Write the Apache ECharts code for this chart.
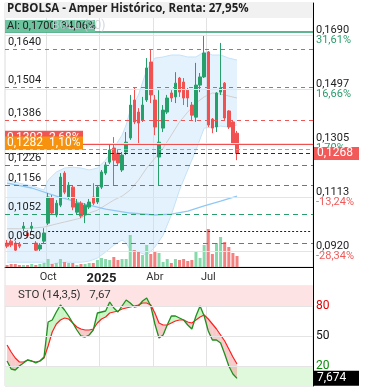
<!DOCTYPE html>
<html><head><meta charset="utf-8">
<script src="https://cdn.jsdelivr.net/npm/echarts@6/dist/echarts.min.js"></script>
<style>html,body{margin:0;padding:0;background:#fff}#c{width:367px;height:390px}</style>
</head><body><div id="c"></div><script>
const dates = ['2024-07-26','2024-08-02','2024-08-09','2024-08-16','2024-08-23','2024-08-30','2024-09-06','2024-09-13','2024-09-20','2024-09-27',
'2024-10-04','2024-10-11','2024-10-18','2024-10-25','2024-11-01','2024-11-08','2024-11-15','2024-11-22','2024-11-29','2024-12-06',
'2024-12-13','2024-12-20','2024-12-27','2025-01-03','2025-01-10','2025-01-17','2025-01-24','2025-01-31','2025-02-07','2025-02-14',
'2025-02-21','2025-02-28','2025-03-07','2025-03-14','2025-03-21','2025-03-28','2025-04-04','2025-04-11','2025-04-18','2025-04-25',
'2025-05-02','2025-05-09','2025-05-16','2025-05-23','2025-05-30','2025-06-06','2025-06-13','2025-06-20','2025-06-27','2025-07-04',
'2025-07-11','2025-07-18','2025-07-25','2025-08-01','2025-08-08','2025-08-15','2025-08-22'];
const padCount = 18;
// [open, close, low, high]
const candles = [
[0.0949,0.0938,0.0931,0.0960],[0.0956,0.0942,0.0935,0.0963],[0.0949,0.0924,0.0917,0.0956],[0.0945,0.0938,0.0931,0.0953],
[0.1002,0.1009,0.0992,0.1024],[0.0985,0.0974,0.0967,0.0995],[0.1002,0.1009,0.0988,0.1024],[0.0949,0.0924,0.0920,0.0956],
[0.0928,0.0942,0.0920,0.0949],[0.0956,0.0985,0.0949,0.1002],[0.1020,0.1113,0.1013,0.1127],[0.1109,0.1056,0.1049,0.1120],
[0.1049,0.1091,0.1041,0.1102],[0.1084,0.1184,0.1077,0.1198],[0.1198,0.1130,0.1123,0.1205],[0.1113,0.1155,0.1106,0.1166],
[0.1148,0.1077,0.1066,0.1155],[0.1059,0.1091,0.1049,0.1106],[0.1091,0.1045,0.1038,0.1098],[0.1049,0.1084,0.1020,0.1091],
[0.1077,0.1095,0.1070,0.1106],[0.1113,0.1091,0.1084,0.1162],[0.1095,0.1148,0.1088,0.1155],[0.1148,0.1202,0.1141,0.1209],
[0.1198,0.1227,0.1191,0.1237],[0.1237,0.1280,0.1230,0.1298],[0.1287,0.1244,0.1155,0.1326],[0.1269,0.1234,0.1223,0.1280],
[0.1209,0.1262,0.1202,0.1273],[0.1273,0.1308,0.1262,0.1344],[0.1323,0.1440,0.1316,0.1476],[0.1458,0.1380,0.1372,0.1501],
[0.1415,0.1376,0.1305,0.1429],[0.1387,0.1440,0.1380,0.1469],[0.1458,0.1572,0.1451,0.1607],[0.1593,0.1476,0.1447,0.1639],
[0.1458,0.1362,0.1333,0.1476],[0.1255,0.1308,0.1155,0.1493],[0.1358,0.1422,0.1344,0.1440],[0.1415,0.1465,0.1408,0.1476],
[0.1483,0.1465,0.1451,0.1493],[0.1469,0.1518,0.1447,0.1557],[0.1536,0.1486,0.1469,0.1540],[0.1522,0.1465,0.1440,0.1536],
[0.1493,0.1465,0.1433,0.1501],[0.1440,0.1404,0.1387,0.1451],[0.1397,0.1511,0.1380,0.1590],[0.1511,0.1540,0.1486,0.1554],
[0.1540,0.1625,0.1536,0.1689],[0.1629,0.1369,0.1362,0.1632],[0.1390,0.1358,0.1340,0.1394],[0.1362,0.1483,0.1344,0.1486],
[0.1486,0.1501,0.1476,0.1661],[0.1518,0.1394,0.1387,0.1522],[0.1419,0.1362,0.1355,0.1422],[0.1380,0.1305,0.1298,0.1387],
[0.1340,0.1268,0.1244,0.1348]];
const volumes = [20,30,30,20,20,20,30,20,30,40,80,30,40,80,50,40,40,20,30,30,40,40,70,90,80,70,100,70,80,80,
320,170,150,120,220,130,150,140,50,80,40,80,70,80,60,70,150,90,220,380,130,240,300,250,200,140,110];
const bandIdx   = [0,3,6,9,10,12,14,16,18,20,22,24,26,28,29,30,32,34,36,38,40,42,44,46,48,50,52,54,56];
const bandUpper = [0.1173,0.1162,0.1152,0.1138,0.1173,0.1202,0.1216,0.1219,0.1216,0.1209,0.1216,0.1244,0.1287,0.1333,0.1369,0.1422,0.1476,0.1565,0.1607,0.1611,0.1618,0.1618,0.1611,0.1611,0.1629,0.1618,0.1618,0.1607,0.1600];
const bandLower = [0.0881,0.0881,0.0881,0.0881,0.0871,0.0878,0.0881,0.0881,0.0881,0.0885,0.0896,0.0917,0.0942,0.0960,0.0950,0.0924,0.0917,0.0906,0.0935,0.0977,0.1049,0.1138,0.1209,0.1280,0.1358,0.1362,0.1365,0.1362,0.1369];
const midIdx  = [0,3,6,9,12,14,16,18,20,22,24,26,28,30,32,34,36,38,40,42,44,46,48,50,52,54,56];
const midVals = [0.1000,0.1000,0.1002,0.1006,0.1017,0.1024,0.1031,0.1038,0.1056,0.1066,0.1084,0.1102,0.1116,0.1138,0.1173,0.1216,0.1251,0.1287,0.1333,0.1380,0.1415,0.1447,0.1469,0.1483,0.1479,0.1472,0.1465];
const maIdx  = [0,6,12,18,24,30,36,40,44,48,52,56];
const maVals = [0.1162,0.1145,0.1116,0.1091,0.1070,0.1056,0.1049,0.1052,0.1063,0.1081,0.1098,0.1116];
const stoK = [25,17,16,20,23,26,25,23,25,29,64,66,74,81,76,70,63,56,50,49,51,56,73,74,75,84,78,74,80,86,
83,79,80,85,88,80,62,48,51,61,70,70,68,66,61,57,70,80,70,55,46,46,43,32,20,12,7.674];
const stoD = [41,34,28,24,24,26,25,24,25,28,40,54,62,66,68,67,63,59,57,56,56,57,63,67,69,73,74,75,77,78,
79,80,81,83,83,81,73,63,61,61,63,65,66,66,64,63,66,69,71,67,62,57,51,45,37,29,22];
const rightLevels = [0.1690,0.1497,0.1305,0.1113,0.0920];
const rightPct    = ['31,61%','16,66%','1,70%','-13,24%','-28,34%'];
const resistLevels = [0.1640,0.1504,0.1386];
const supportLevels = [0.1226,0.1156,0.1052,0.0950];
const athLevel = 0.1700, redLevel = 0.1302, avgLevel = 0.1282, lastLevel = 0.1268, dotLevel = 0.0991;
const stoLevels = [80,50,20];
const monthNames = {1:'2025',4:'Abr',7:'Jul',10:'Oct'};

const GREEN='#26a06b', RED='#f05252', DGREEN='#2a9d6c';
const fmt4 = v => v.toFixed(4).replace('.', ',');
const cats = dates.concat(Array.from({length: padCount}, (_, k) => '+' + k));
function isQStart(val){
  if (!val || val[0]==='+') return false;
  const p = val.split('-').map(Number);
  return p[2] <= 7 && (p[1]-1) % 3 === 0;
}
const FONT = 'Roboto';
const chart = echarts.init(document.getElementById('c'));

const mlData = [];
rightLevels.forEach((v,k)=>{
  const pc = rightPct[k][0]==='-' ? '#f05a5a' : '#2a9d6c';
  mlData.push({yAxis:v, lineStyle:{color:'#e4e4e4',type:'solid',width:1},
    label:{show:true,position:'end',distance:3,fontSize:11,lineHeight:10,formatter:'{v|'+fmt4(v)+'}\n{p|'+rightPct[k]+'}',
      rich:{v:{color:'#222',fontSize:11,lineHeight:10,fontFamily:FONT},p:{color:pc,fontSize:11,lineHeight:10,fontFamily:FONT}}}});
});
resistLevels.forEach(v=>mlData.push({yAxis:v,lineStyle:{color:'#f05555',type:[4,4],width:1},
  label:{show:true,position:'insideStartTop',distance:1,formatter:fmt4(v),color:'#222',fontSize:11,fontFamily:FONT,padding:[0,0,0,2]}}));
supportLevels.forEach(v=>mlData.push({yAxis:v,lineStyle:{color:DGREEN,type:[5,4],width:1},
  label:{show:true,position:'insideStartTop',distance:1,formatter:fmt4(v),color:'#222',fontSize:11,fontFamily:FONT,padding:[0,0,0,2]}}));
mlData.push([{coord:[10,dotLevel]},{coord:[cats.length-1,dotLevel],lineStyle:{color:'#222',type:[2,2],width:1}}]);
mlData.push({yAxis:athLevel,lineStyle:{color:DGREEN,type:'solid',width:1.5},
  label:{show:true,position:'insideStartTop',distance:0,formatter:'AI: '+fmt4(athLevel)+'  34,06%',color:'#222',fontSize:11,fontFamily:FONT,
    backgroundColor:'#6cc39e',padding:[1,3,0,2],width:85}});
mlData.push({yAxis:redLevel,lineStyle:{color:'#f05050',type:'solid',width:1},
  label:{show:true,position:'insideStartTop',distance:0,formatter:fmt4(redLevel)+'  2,68%',color:'#fff',fontSize:12,fontFamily:FONT,
    backgroundColor:'#f05555',padding:[1,3,0,2],width:73}});
mlData.push({yAxis:avgLevel,lineStyle:{color:'#f7950f',type:[4,3],width:1.2},
  label:{show:true,position:'insideStartTop',distance:0,formatter:fmt4(avgLevel)+'  1,10%',color:'#fff',fontSize:12,fontFamily:FONT,
    backgroundColor:'#f7920f',padding:[1,3,0,2],width:73}});
mlData.push({yAxis:lastLevel,lineStyle:{color:'#1a1acc',type:[4,3],width:1},
  label:{show:true,position:'end',distance:1,formatter:fmt4(lastLevel),color:'#fff',fontSize:12,fontFamily:FONT,
    backgroundColor:'#f25a5a',padding:[1,3,0,3],width:39}});

const stoMl = stoLevels.map((v,k)=>({yAxis:v,lineStyle:{color:'#e4e4e4',type:'solid',width:1},
  label:{show:true,position:'end',distance:3,formatter:String(v),fontSize:12,fontFamily:FONT,color:['#e00000','#111','#0a8a0a'][k]}}));
stoMl.push({yAxis:stoK[stoK.length-1],lineStyle:{color:'rgba(0,0,0,0)'},
  label:{show:true,position:'end',distance:1,formatter:stoK[stoK.length-1].toFixed(3).replace('.',','),color:'#fff',
    backgroundColor:'#000',fontSize:12,fontFamily:FONT,padding:[2,3,1,3],width:39}});

const option = {
  animation:false,
  textStyle:{fontFamily:FONT},
  title:[
    {text:'PCBOLSA - Amper Histórico, Renta: 27,95%',left:5,top:2,z:120,textStyle:{fontSize:11.5,fontWeight:'bold',color:'#222',fontFamily:'Open Sans'},padding:[1,2]},
    {text:'STO (14,3,5)   7,67',left:18,top:289,z:120,textStyle:{fontSize:11.5,fontWeight:'normal',color:'#333',fontFamily:FONT},padding:0}
  ],
  graphic:[
    {type:'rect',id:'tbg',left:5,top:2,shape:{width:308,height:16},style:{fill:'#f1f1f1'},z:100},
    {type:'text',id:'boll',left:52,top:20,style:{text:'BOLL (20)',fill:'rgba(200,208,216,0.85)',fontSize:12,fontFamily:FONT},z:101},
    {type:'line',id:'l1',shape:{x1:5,y1:267.5,x2:5,y2:286},style:{stroke:'#e0e0e0'},z:100},
    {type:'line',id:'l2',shape:{x1:313.5,y1:267,x2:313.5,y2:286},style:{stroke:'#000'},z:100}
  ],
  grid:[
    {left:5,width:308,top:3,height:264,show:true,borderColor:'#dcdcdc',borderWidth:1},
    {left:5,width:308,top:286,height:100,show:true,borderColor:'#dcdcdc',borderWidth:1}
  ],
  xAxis:[
    {type:'category',gridIndex:0,data:cats,boundaryGap:true,
      axisLine:{show:true,onZero:false,lineStyle:{color:'#000',width:1}},axisTick:{show:false},
      axisLabel:{interval:(i,v)=>isQStart(v),margin:5,color:'#333',fontSize:11,fontFamily:FONT,
        formatter:v=>{const m=Number(v.split('-')[1]); return m===1?'{y|'+v.slice(0,4)+'}':monthNames[m];},
        rich:{y:{fontWeight:'bold',fontSize:13,color:'#222',fontFamily:FONT}}},
      splitLine:{show:true,interval:(i,v)=>isQStart(v),lineStyle:{color:'#e2e2e2',width:1}}},
    {type:'category',gridIndex:1,data:cats,boundaryGap:true,
      axisLine:{show:false},axisTick:{show:false},axisLabel:{show:false},
      splitLine:{show:true,interval:(i,v)=>isQStart(v),lineStyle:{color:'#e2e2e2',width:1}}}
  ],
  yAxis:[
    {type:'value',gridIndex:0,min:0.0864,max:0.1803,position:'right',
      axisLine:{show:true,lineStyle:{color:'#000'}},axisTick:{show:false},axisLabel:{show:false},splitLine:{show:false}},
    {type:'value',gridIndex:0,min:0,max:2640,show:false},
    {type:'value',gridIndex:1,min:0,max:100,position:'right',
      axisLine:{show:true,lineStyle:{color:'#000'}},axisTick:{show:false},axisLabel:{show:false},splitLine:{show:false}}
  ],
  series:[
    {type:'custom',xAxisIndex:0,yAxisIndex:0,z:1,silent:true,data:[[0,0.12]],
      renderItem:(params,api)=>{
        const up = bandIdx.map((x,k)=>api.coord([x,bandUpper[k]]));
        const lo = bandIdx.map((x,k)=>api.coord([x,bandLower[k]]));
        return {type:'group',children:[
          {type:'polygon',shape:{points:up.concat(lo.slice().reverse())},style:{fill:'rgba(190,224,250,0.42)'}},
          {type:'polyline',shape:{points:up},style:{stroke:'#c4e2f8',fill:null,lineWidth:1}},
          {type:'polyline',shape:{points:lo},style:{stroke:'#c4e2f8',fill:null,lineWidth:1}}
        ]};
      }},
    {type:'line',xAxisIndex:0,yAxisIndex:0,z:2,symbol:'none',silent:true,data:midIdx.map((x,k)=>[x,midVals[k]]),
      lineStyle:{color:'#cfcfcf',width:1}},
    {type:'line',xAxisIndex:0,yAxisIndex:0,z:2,symbol:'none',silent:true,data:maIdx.map((x,k)=>[x,maVals[k]]),
      lineStyle:{color:'#90c8f5',width:1.3}},
    {type:'bar',xAxisIndex:0,yAxisIndex:1,z:2,barWidth:3,silent:true,
      data:volumes.map((v,i)=>({value:v,itemStyle:{color:candles[i][1]>=candles[i][0]?'#86d9ab':'#f58080'}}))},
    {type:'candlestick',xAxisIndex:0,yAxisIndex:0,z:3,barWidth:3,data:candles,
      itemStyle:{color:GREEN,color0:RED,borderColor:GREEN,borderColor0:RED,borderWidth:1},
      markLine:{symbol:'none',silent:true,animation:false,precision:6,data:mlData}},
    {type:'custom',xAxisIndex:1,yAxisIndex:2,z:1,silent:true,data:[[0,50]],
      renderItem:(params,api)=>{
        const ch=[];
        const poly=(pts,c)=>({type:'polygon',shape:{points:pts},style:{fill:c}});
        const G='rgba(150,235,140,0.5)', R='rgba(240,140,140,0.45)';
        for(let k=0;k<stoK.length-1;k++){
          const k0=api.coord([k,stoK[k]]),k1=api.coord([k+1,stoK[k+1]]),d0=api.coord([k,stoD[k]]),d1=api.coord([k+1,stoD[k+1]]);
          const a=stoK[k]-stoD[k], b=stoK[k+1]-stoD[k+1];
          if(a*b>=0){ ch.push(poly([k0,k1,d1,d0],(a+b)>=0?G:R)); }
          else { const t=a/(a-b); const c=[k0[0]+(k1[0]-k0[0])*t,k0[1]+(k1[1]-k0[1])*t];
            ch.push(poly([k0,c,d0],a>0?G:R)); ch.push(poly([c,k1,d1],b>0?G:R)); }
        }
        return {type:'group',children:ch};
      },
      markArea:{silent:true,data:[
        [{yAxis:80,itemStyle:{color:'#fde3e3'}},{yAxis:100}],
        [{yAxis:0,itemStyle:{color:'#e0f8dc'}},{yAxis:20}]
      ]}},
    {type:'line',xAxisIndex:1,yAxisIndex:2,z:3,symbol:'none',silent:true,data:stoD,lineStyle:{color:'#ff2020',width:1.2}},
    {type:'line',xAxisIndex:1,yAxisIndex:2,z:3,symbol:'none',silent:true,data:stoK,lineStyle:{color:'#1f8f1f',width:1.3},
      markLine:{symbol:'none',silent:true,animation:false,precision:6,data:stoMl}}
  ]
};
chart.setOption(option);
</script></body></html>
